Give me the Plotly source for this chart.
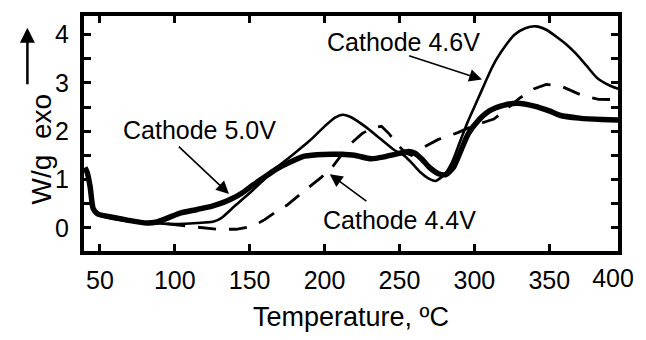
import plotly.graph_objects as go

# ---- data ----
t_50 = [40, 41.5, 43.5, 45.5, 48, 50, 60, 70, 81, 88, 95, 103, 115, 125, 132, 138, 145, 152,
        160, 167, 175, 185, 195, 205, 211, 220, 231, 240, 247, 256, 260, 265, 270, 276, 281,
        286, 291, 296, 302, 310, 320, 329, 340, 350, 357, 370, 385, 397, 400]
w_50 = [1.25, 1.15, 0.85, 0.4, 0.3, 0.27, 0.21, 0.15, 0.1, 0.12, 0.2, 0.3, 0.38, 0.45, 0.52,
        0.6, 0.72, 0.88, 1.05, 1.2, 1.33, 1.47, 1.51, 1.52, 1.52, 1.5, 1.43, 1.47, 1.52, 1.58,
        1.55, 1.42, 1.25, 1.12, 1.1, 1.25, 1.6, 1.95, 2.2, 2.42, 2.54, 2.58, 2.52, 2.42, 2.33,
        2.27, 2.24, 2.23, 2.23]

t_46 = [40, 41.5, 43.5, 45.5, 48, 50, 60, 70, 80, 90, 100, 110, 120, 126, 131, 140, 150, 158,
        167, 175, 183, 190, 200, 207, 212, 217, 227, 237, 247, 253, 258, 264, 269, 274, 280,
        285, 290, 295, 300, 305, 310, 315, 321, 327, 334, 341, 348, 355, 362, 368, 375, 382,
        390, 396, 400]
w_46 = [1.2, 1.1, 0.8, 0.38, 0.28, 0.25, 0.18, 0.13, 0.1, 0.09, 0.08, 0.09, 0.11, 0.13, 0.2,
        0.45, 0.72, 0.95, 1.22, 1.42, 1.62, 1.8, 2.1, 2.28, 2.34, 2.3, 2.1, 1.85, 1.6, 1.5,
        1.35, 1.15, 1.03, 0.97, 1.1, 1.35, 1.75, 2.15, 2.5, 2.85, 3.2, 3.5, 3.78, 4.0, 4.13,
        4.17, 4.1, 3.95, 3.78, 3.6, 3.35, 3.1, 2.95, 2.88, 2.86]

t_44 = [95, 113, 128, 141, 150, 155, 160, 167, 175, 180, 190, 198, 205, 210, 216, 225, 232,
        238, 243, 248, 254, 258, 262, 268, 276, 289, 300, 308, 313, 320, 330, 340, 348, 358,
        365, 372, 383, 395, 400]
w_44 = [0.08, 0.02, -0.03, -0.03, 0.02, 0.08, 0.17, 0.32, 0.47, 0.6, 0.85, 1.05, 1.25, 1.45,
        1.7, 1.95, 2.07, 2.1, 1.95, 1.75, 1.55, 1.5, 1.6, 1.7, 1.83, 1.97, 2.12, 2.2, 2.25,
        2.42, 2.68, 2.88, 2.97, 2.93, 2.83, 2.74, 2.66, 2.65, 2.65]

x_ticks = [50, 100, 150, 200, 250, 300, 350]
y_ticks = [0, 0.5, 1, 1.5, 2, 2.5, 3, 3.5, 4]
y_tick_text = ["0", "", "1", "", "2", "", "3", "", "4"]
x_range = [39.4, 395.9]
y_range = [-0.48, 4.384]

FONT = "Liberation Sans, Arial, Helvetica, sans-serif"

fig = go.Figure()
fig.add_trace(go.Scatter(x=t_44, y=w_44, mode="lines", name="Cathode 4.4V",
                         line=dict(color="black", width=2.8, dash="18px,13px")))
fig.add_trace(go.Scatter(x=t_46, y=w_46, mode="lines", name="Cathode 4.6V",
                         line=dict(color="black", width=2.6, shape="spline", smoothing=0.6)))
fig.add_trace(go.Scatter(x=t_50, y=w_50, mode="lines", name="Cathode 5.0V",
                         line=dict(color="black", width=5.5, shape="spline", smoothing=0.6)))
# empty trace that carries the extra "400" label axis
fig.add_trace(go.Scatter(x=[], y=[], xaxis="x2", showlegend=False, hoverinfo="skip"))

axis_common = dict(showline=True, linecolor="black", linewidth=4, mirror="ticks",
                   ticks="inside", ticklen=7, tickwidth=3, tickcolor="black",
                   showgrid=False, zeroline=False)

fig.update_layout(
    width=646, height=340,
    margin=dict(l=84, r=24, t=15, b=85),
    paper_bgcolor="white", plot_bgcolor="white",
    showlegend=False,
    xaxis=dict(range=x_range, tickvals=x_ticks, ticklabelstandoff=4,
               tickfont=dict(family=FONT, size=25, color="black"),
               title=dict(text="Temperature, ºC", font=dict(family=FONT, size=27, color="black"),
                          standoff=15),
               **axis_common),
    xaxis2=dict(range=x_range, overlaying="x", anchor="y", side="bottom",
                showline=False, ticks="", showgrid=False, zeroline=False,
                tickvals=[392.6], ticktext=["400"], ticklabelstandoff=10,
                tickfont=dict(family=FONT, size=25, color="black")),
    yaxis=dict(range=y_range, tickvals=y_ticks, ticktext=y_tick_text, ticklabelstandoff=6,
               tickfont=dict(family=FONT, size=25, color="black"),
               **axis_common),
)

ann_font = dict(family=FONT, size=25, color="black")
arrow_style = dict(showarrow=True, arrowhead=2, arrowsize=1.6, arrowwidth=1.6,
                   arrowcolor="black", axref="x", ayref="y", text="")

# label texts
fig.add_annotation(x=252.4, y=3.85, text="Cathode 4.6V", showarrow=False, font=ann_font)
fig.add_annotation(x=116.3, y=2.03, text="Cathode 5.0V", showarrow=False, font=ann_font)
fig.add_annotation(x=250.0, y=0.17, text="Cathode 4.4V", showarrow=False, font=ann_font)
# pointer arrows (head x,y ; tail ax,ay)
fig.add_annotation(x=305.1, y=3.07, ax=255.4, ay=3.57, **arrow_style)
fig.add_annotation(x=136.2, y=0.70, ax=101.7, ay=1.71, **arrow_style)
fig.add_annotation(x=203.5, y=1.11, ax=228.9, ay=0.53, **arrow_style)

# y-axis title with the exo arrow
fig.add_annotation(xref="paper", yref="paper", x=-0.113, y=0.433, text="W/g\u00a0\u00a0exo",
                   textangle=-90, showarrow=False,
                   font=dict(family=FONT, size=28, color="black"))
fig.add_annotation(xref="paper", yref="paper", x=-0.106, y=0.95, ax=0, ay=58, text="",
                   showarrow=True, arrowhead=2, arrowsize=1.2, arrowwidth=2.5, arrowcolor="black")

fig.write_html("out.html")
